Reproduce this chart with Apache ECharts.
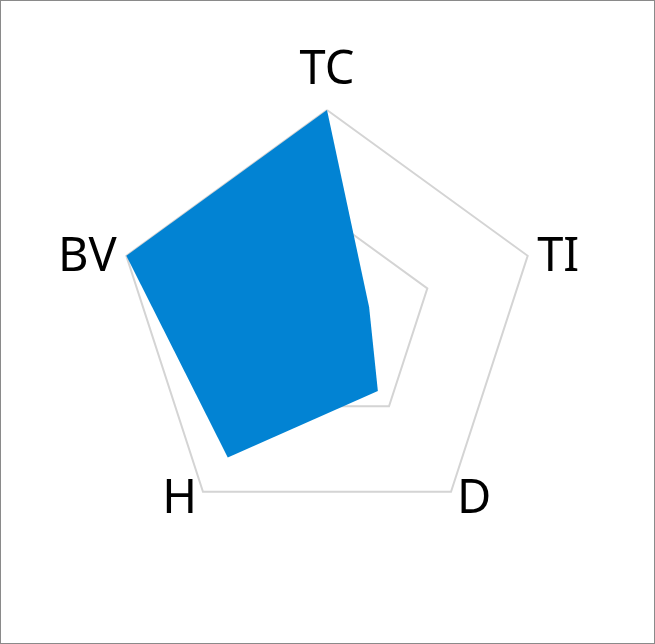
<!DOCTYPE html>
<html>
<head>
<meta charset="utf-8">
<script src="https://cdn.jsdelivr.net/npm/echarts@6/dist/echarts.min.js"></script>
<style>
html,body{margin:0;padding:0;background:#fff;}
#frame{position:absolute;left:0;top:0;width:653px;height:642px;border:1px solid #8a8a8a;}
#chart{position:absolute;left:0;top:0;width:653px;height:642px;}
</style>
</head>
<body>
<div id="frame"><div id="chart"></div></div>
<script>
// indicators listed in drawing order (ECharts lays them out counter-clockwise from the top)
const indicatorNames = ['TC', 'BV', 'H', 'D', 'TI'];
const indicatorMax = [100, 100, 100, 100, 100];
const seriesValues = [100, 100, 80, 41, 21];

const FONT = '"Noto Sans", sans-serif';
const chart = echarts.init(document.getElementById('chart'));
chart.setOption({
  animation: false,
  radar: {
    center: [326, 320],
    radius: 211,
    startAngle: 90,
    splitNumber: 2,
    shape: 'polygon',
    nameGap: 10,
    indicator: indicatorNames.map((n, i) => ({ name: n, max: indicatorMax[i] })),
    axisName: {
      color: '#000',
      fontSize: 47,
      fontFamily: FONT,
      formatter: function (name) {
        if (name === 'TC') return '{top|' + name + '}';
        if (name === 'BV' || name === 'TI') return '{side|' + name + '}';
        return name;
      },
      rich: {
        top: { fontSize: 47, color: '#000', fontFamily: FONT, padding: [0, 0, 6, 0] },
        side: { fontSize: 47, color: '#000', fontFamily: FONT, padding: [9, 0, 0, 0] }
      }
    },
    axisLine: { show: false },
    axisTick: { show: false },
    axisLabel: { show: false },
    splitArea: { show: false },
    splitLine: { lineStyle: { color: '#d4d4d4', width: 2 } }
  },
  series: [{
    type: 'radar',
    symbol: 'none',
    lineStyle: { width: 0 },
    areaStyle: { color: '#0283d3', opacity: 1 },
    data: [{ value: seriesValues }]
  }]
});
</script>
</body>
</html>
